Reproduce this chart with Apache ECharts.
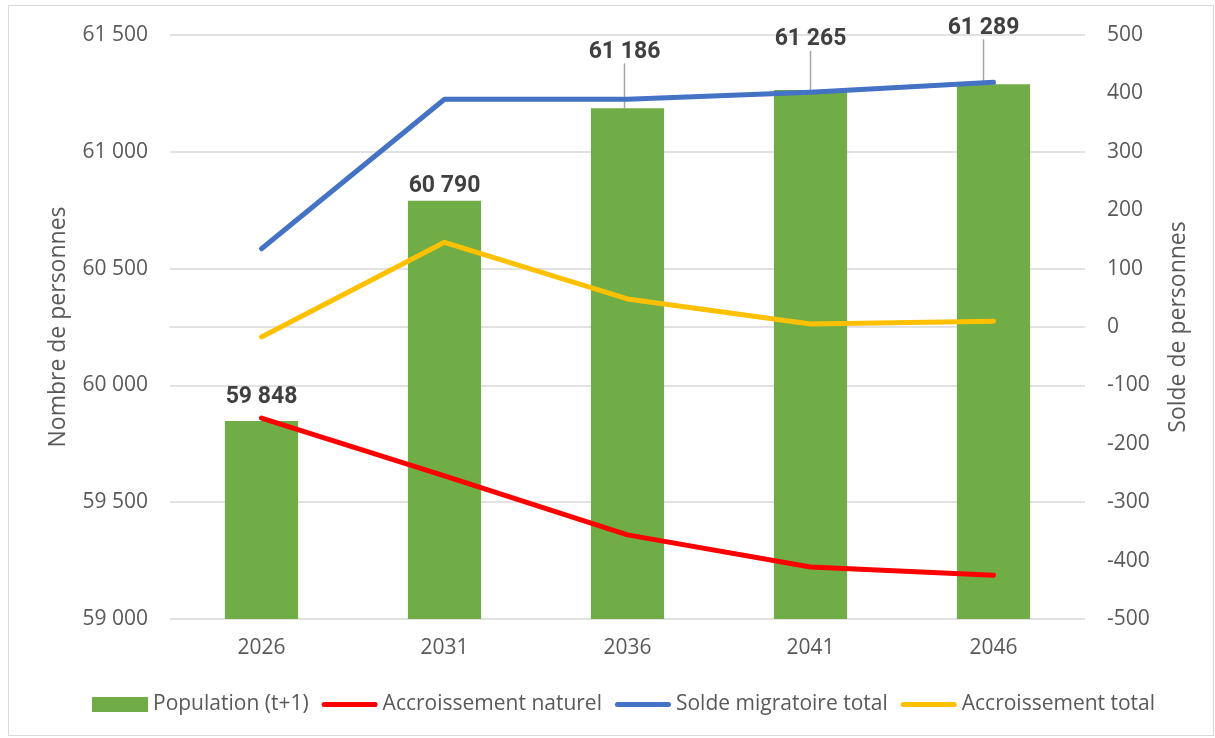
<!DOCTYPE html>
<html>
<head>
<meta charset="utf-8">
<script src="https://cdn.jsdelivr.net/npm/echarts@6/dist/echarts.min.js"></script>
<style>
  html, body { margin: 0; padding: 0; background: #fff; }
  #chart { width: 1215px; height: 738px; }
  #frame { position: absolute; left: 8px; top: 5px; width: 1204px; height: 729px; border: 1px solid #d9d9d9; pointer-events: none; }
</style>
</head>
<body>
<div id="chart"></div>
<div id="frame"></div>
<script>
const years = ['2026', '2031', '2036', '2041', '2046'];
const population = [59848, 60790, 61186, 61265, 61289];
const accroissementNaturel = [-156, -255, -356, -411, -425];
const soldeMigratoire = [134, 390, 390, 402, 419];
const accroissementTotal = [-17, 145, 48, 5, 10];

// label offsets (dx, dy) and whether a leader line is drawn
const labelShift = [[0, -7], [0, 2], [-3, -40], [0, -34], [-10, -40]];
const leader = [false, false, true, true, true];

const font = '"Open Sans", "Noto Sans", sans-serif';
const textGrey = '#595959';
const lineIcon = 'path://M2.5,0 L53.5,0 A2.5,2.5 0 0 1 53.5,5 L2.5,5 A2.5,2.5 0 0 1 2.5,0 Z';

const chart = echarts.init(document.getElementById('chart'));

function fmt(v) {
  return String(v).replace(/\B(?=(\d{3})+(?!\d))/g, ' ');
}

const lineStyle = (color) => ({ width: 5, color: color, cap: 'round', join: 'round' });

const barData = population.map((v, i) => ({
  value: v,
  labelLine: { show: leader[i] }
}));

chart.setOption({
  animation: false,
  textStyle: { fontFamily: font },
  grid: { left: 170, right: 130, top: 35, bottom: 119 },
  legend: {
    bottom: 18,
    left: 87,
    itemWidth: 56,
    itemHeight: 15,
    itemGap: 13,
    textStyle: { color: textGrey, fontSize: 21, fontFamily: font },
    data: [
      { name: 'Population (t+1)', icon: 'rect' },
      { name: 'Accroissement naturel', icon: lineIcon },
      { name: 'Solde migratoire total', icon: lineIcon },
      { name: 'Accroissement total', icon: lineIcon }
    ]
  },
  xAxis: {
    type: 'category',
    data: years,
    axisLine: { show: true, lineStyle: { color: '#d9d9d9', width: 1.5 } },
    axisTick: { show: false },
    axisLabel: { color: textGrey, fontSize: 21, margin: 19 }
  },
  yAxis: [
    {
      type: 'value',
      min: 59000,
      max: 61500,
      interval: 500,
      name: 'Nombre de personnes',
      nameLocation: 'middle',
      nameGap: 100,
      nameTextStyle: { color: textGrey, fontSize: 23 },
      axisLine: { show: false },
      axisTick: { show: false },
      axisLabel: { color: textGrey, fontSize: 21, margin: 22, formatter: fmt },
      splitLine: { lineStyle: { color: '#d9d9d9', width: 1.5 } }
    },
    {
      type: 'value',
      min: -500,
      max: 500,
      interval: 100,
      name: 'Solde de personnes',
      nameLocation: 'middle',
      nameGap: 82,
      nameRotate: 90,
      nameTextStyle: { color: textGrey, fontSize: 23 },
      axisLine: { show: false },
      axisTick: { show: false },
      axisLabel: { color: textGrey, fontSize: 21, margin: 22 },
      splitLine: { show: false }
    }
  ],
  series: [
    {
      name: 'Population (t+1)',
      type: 'bar',
      data: barData,
      barWidth: '40%',
      itemStyle: { color: '#70ad47' },
      z: 1,
      label: {
        show: true,
        position: 'top',
        distance: 5,
        color: '#404040',
        fontSize: 23,
        lineHeight: 23,
        fontWeight: 'bold',
        fontFamily: 'Roboto, "Liberation Sans", sans-serif',
        formatter: (p) => fmt(p.value)
      },
      labelLine: { lineStyle: { color: '#a6a6a6', width: 1.5 } },
      labelLayout: (p) => ({ dx: labelShift[p.dataIndex][0], dy: labelShift[p.dataIndex][1] })
    },
    {
      name: 'Accroissement naturel',
      type: 'line',
      yAxisIndex: 1,
      data: accroissementNaturel,
      showSymbol: false,
      symbol: 'none',
      color: '#ff0000',
      lineStyle: lineStyle('#ff0000'),
      z: 3
    },
    {
      name: 'Solde migratoire total',
      type: 'line',
      yAxisIndex: 1,
      data: soldeMigratoire,
      showSymbol: false,
      symbol: 'none',
      color: '#4472c4',
      lineStyle: lineStyle('#4472c4'),
      z: 3
    },
    {
      name: 'Accroissement total',
      type: 'line',
      yAxisIndex: 1,
      data: accroissementTotal,
      showSymbol: false,
      symbol: 'none',
      color: '#ffc000',
      lineStyle: lineStyle('#ffc000'),
      z: 3
    }
  ]
});
</script>
</body>
</html>
